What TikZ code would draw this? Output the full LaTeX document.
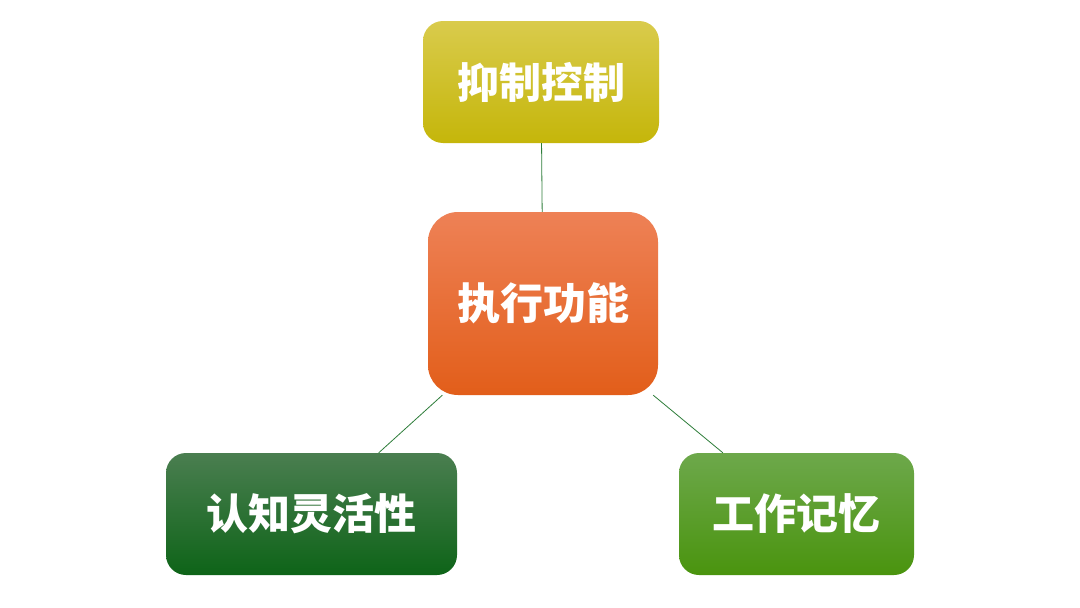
\documentclass[tikz,border=0pt]{standalone}
\usepackage{fontspec}
\newfontfamily\cjk{Noto Sans CJK SC}
\definecolor{lnGreen}{HTML}{2E7D3A}
\definecolor{yTop}{HTML}{D9CB4C}\definecolor{yMid}{HTML}{D4C81A}\definecolor{yBot}{HTML}{C5B60A}
\definecolor{oTop}{HTML}{EE8156}\definecolor{oMid}{HTML}{F06F2E}\definecolor{oBot}{HTML}{E25E1A}
\definecolor{gTop}{HTML}{4A7E50}\definecolor{gMid}{HTML}{1A7022}\definecolor{gBot}{HTML}{0E6418}
\definecolor{lTop}{HTML}{6DA84B}\definecolor{lMid}{HTML}{55A01A}\definecolor{lBot}{HTML}{4A940E}
\tikzset{
  box/.style={rectangle, rounded corners=20pt, inner sep=0pt, text=white,
    font=\cjk\bfseries\fontsize{42}{48}\selectfont},
  link/.style={draw=lnGreen, line width=0.8pt}
}
\begin{document}
\begin{tikzpicture}[x=1pt,y=-1pt]
\fill[white] (0,0) rectangle (1080,608);
\useasboundingbox (0,0) rectangle (1080,608);
\node[box, minimum width=236pt, minimum height=122pt, top color=yTop, middle color=yMid, bottom color=yBot] (top) at (541,82) {抑制控制};
\node[box, rounded corners=30pt, minimum width=230pt, minimum height=183pt, top color=oTop, middle color=oMid, bottom color=oBot, font=\cjk\bfseries\fontsize{43}{48}\selectfont] (ef) at (543,303.5) {执行功能};
\node[box, minimum width=291pt, minimum height=122pt, top color=gTop, middle color=gMid, bottom color=gBot] (cf) at (311.5,514) {认知灵活性};
\node[box, minimum width=235pt, minimum height=122pt, top color=lTop, middle color=lMid, bottom color=lBot] (wm) at (796.5,514) {工作记忆};
\draw[link] (ef) -- (top);
\draw[link] (ef) -- (cf);
\draw[link] (ef) -- (wm);
\end{tikzpicture}
\end{document}
